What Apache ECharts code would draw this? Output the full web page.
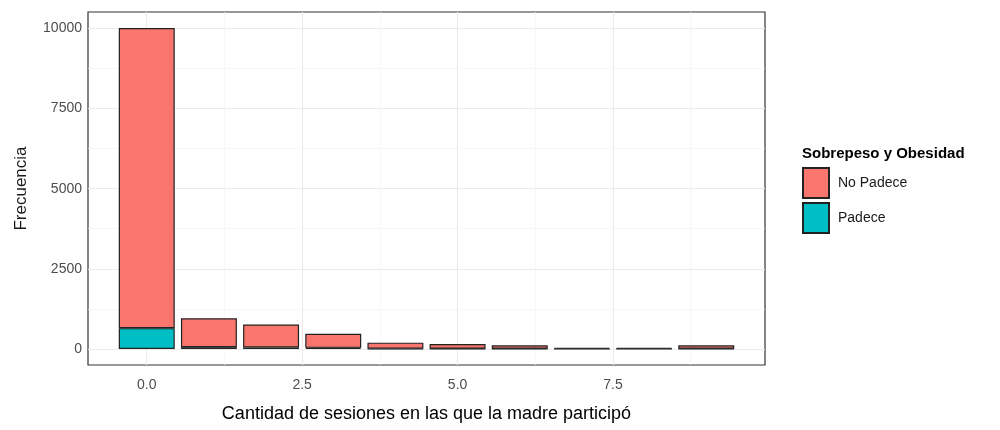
<!DOCTYPE html>
<html><head><meta charset="utf-8">
<script src="https://cdn.jsdelivr.net/npm/echarts@6/dist/echarts.min.js"></script>
<style>html,body{margin:0;padding:0;background:#fff}#c{width:1000px;height:430px}</style>
</head><body><div id="c"></div>
<script>
const categories = [0, 1, 2, 3, 4, 5, 6, 7, 8, 9];
const noPadece = [9360, 900, 720, 440, 185, 145, 107, 35, 35, 107];
const padece = [650, 55, 45, 35, 12, 10, 8, 5, 5, 8];
const xTicks = [0, 2.5, 5, 7.5];
const xMinor = [1.25, 3.75, 6.25, 8.75];
const yTicks = [0, 2500, 5000, 7500, 10000];
const yMinor = [1250, 3750, 6250, 8750];
const seriesNames = ['No Padece', 'Padece'];
const colors = ['#F8766D', '#00BFC4'];

const X_MIN = -0.945, X_MAX = 9.945, Y_MIN = -500, Y_MAX = 10510;
const GRID = {left: 88, top: 12, width: 677, height: 353};
const pxPerUnit = GRID.width / (X_MAX - X_MIN);
const barGrid = {left: GRID.left + (-0.5 - X_MIN) * pxPerUnit, top: GRID.top,
                 width: categories.length * pxPerUnit, height: GRID.height};
const sans = '"Liberation Sans", Arial, sans-serif';

const gridLines = [];
xTicks.forEach(v => gridLines.push({xAxis: v, lineStyle: {color: '#EBEBEB', width: 1.2, type: 'solid'}}));
xMinor.forEach(v => gridLines.push({xAxis: v, lineStyle: {color: '#F3F3F3', width: 0.7, type: 'solid'}}));
yTicks.forEach(v => gridLines.push({yAxis: v, lineStyle: {color: '#EBEBEB', width: 1.2, type: 'solid'}}));
yMinor.forEach(v => gridLines.push({yAxis: v, lineStyle: {color: '#F3F3F3', width: 0.7, type: 'solid'}}));

const chart = echarts.init(document.getElementById('c'), null, {renderer: 'canvas'});
chart.setOption({
  animation: false,
  grid: [
    {left: GRID.left, top: GRID.top, width: GRID.width, height: GRID.height, show: true,
     borderColor: '#333333', borderWidth: 1.2, backgroundColor: 'transparent', z: 0},
    {left: barGrid.left, top: barGrid.top, width: barGrid.width, height: barGrid.height, show: false}
  ],
  legend: {
    data: seriesNames, orient: 'vertical', left: 797, top: 162,
    itemWidth: 26, itemHeight: 30, itemGap: 3,
    textStyle: {fontFamily: sans, fontSize: 14, color: '#1a1a1a', padding: [0, 0, 0, 4]},
    icon: 'rect'
  },
  title: {text: 'Sobrepeso y Obesidad', left: 797, top: 141,
          textStyle: {fontFamily: sans, fontSize: 15, fontWeight: 'bold', color: '#000'}},
  xAxis: [{
    gridIndex: 0, type: 'value', min: X_MIN, max: X_MAX,
    name: 'Cantidad de sesiones en las que la madre participó', nameLocation: 'middle', nameGap: 40,
    nameTextStyle: {fontFamily: sans, fontSize: 18, color: '#000'},
    axisLine: {show: false},
    axisTick: {show: true, customValues: xTicks, length: 4, lineStyle: {color: '#333', width: 1}},
    axisLabel: {customValues: xTicks, formatter: v => v.toFixed(1), fontFamily: sans, fontSize: 14, color: '#4d4d4d', margin: 13},
    splitLine: {show: false}
  }, {
    gridIndex: 1, type: 'category', data: categories.map(String), boundaryGap: true,
    axisLine: {show: false}, axisTick: {show: false}, axisLabel: {show: false}, splitLine: {show: false}
  }],
  yAxis: [{
    gridIndex: 0, type: 'value', min: Y_MIN, max: Y_MAX,
    name: 'Frecuencia', nameLocation: 'middle', nameGap: 58, nameRotate: 90,
    nameTextStyle: {fontFamily: sans, fontSize: 17, color: '#1a1a1a'},
    axisLine: {show: false},
    axisTick: {show: true, customValues: yTicks, length: 4, lineStyle: {color: '#333', width: 1}},
    axisLabel: {customValues: yTicks, formatter: v => String(v), fontFamily: sans, fontSize: 14, color: '#4d4d4d', margin: 6},
    splitLine: {show: false}
  }, {
    gridIndex: 1, type: 'value', min: Y_MIN, max: Y_MAX, show: false,
    splitLine: {show: false}
  }],
  series: [
    {type: 'line', xAxisIndex: 0, yAxisIndex: 0, data: [], silent: true, z: 1,
     markLine: {silent: true, z: 1, symbol: ['none', 'none'], label: {show: false}, animation: false, data: gridLines}},
    {name: 'Padece', type: 'bar', xAxisIndex: 1, yAxisIndex: 1, stack: 'total', z: 5, barWidth: '90%',
     itemStyle: {color: colors[1], borderColor: '#222', borderWidth: 1.2},
     data: padece},
    {name: 'No Padece', type: 'bar', xAxisIndex: 1, yAxisIndex: 1, stack: 'total', z: 5, barWidth: '90%',
     itemStyle: {color: colors[0], borderColor: '#222', borderWidth: 1.2},
     data: noPadece}
  ]
});
</script></body></html>
